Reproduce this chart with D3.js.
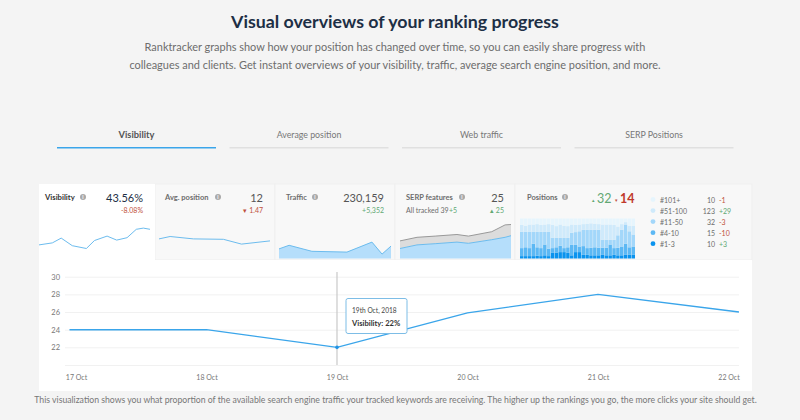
<!DOCTYPE html>
<html>
<head>
<meta charset="utf-8">
<style>
html, body { margin: 0; padding: 0; background: #f4f4f4; }
svg { display: block; font-family: Lato, "Open Sans", sans-serif; }
</style>
<script src="https://cdn.jsdelivr.net/npm/d3@7"></script>
</head>
<body>
<svg id="chart" width="800" height="420"></svg>
<script>
const tabLabels = ['Visibility', 'Average position', 'Web traffic', 'SERP Positions'];

// main chart
const lineDays = [16.95, 18, 19, 20, 21, 22.08];
const lineValues = [24, 24, 22, 25.9, 28, 26];
const dayTicks = [17, 18, 19, 20, 21, 22];
const valueTicks = [20, 22, 24, 26, 28, 30];

// sparklines, x in 0-30, y in 0-100
const visX = [0, 3.6, 6, 9, 12.8, 15, 18.4, 21, 23.8, 26.3, 28.2, 30];
const visY = [34, 39, 51, 32, 25, 45, 56, 46, 52, 73, 76, 73];
const avgX = [0, 3, 9.3, 17.4, 22.3, 30];
const avgY = [49, 55, 49, 48, 36, 44];
const trafficX = [0, 2.7, 8.8, 18.2, 24.9, 27.6, 30];
const trafficY = [24, 33, 18, 16, 41, 11, 31];
const serpX = [0, 4.6, 9.5, 15.4, 18.5, 24.8, 28.4, 30];
const serpTop = [44, 53, 56, 60, 56, 67, 84, 85];
const serpBottom = [25, 34, 37, 41, 38, 47, 53, 57];

// positions stack, share of each bucket per bar
const pos1to3 = [6, 6, 6, 6, 7, 6, 8, 6, 14, 15, 16, 16, 15, 8, 16, 16, 9, 9, 8, 8, 8, 9, 8, 8, 9, 8, 8, 9, 10, 9];
const pos4to10 = [20, 22, 20, 31, 21, 20, 27, 18, 12, 13, 16, 10, 13, 26, 18, 14, 22, 17, 19, 20, 19, 18, 19, 27, 17, 19, 22, 28, 18, 21];
const pos11to50 = [41, 39, 41, 30, 39, 41, 32, 43, 26, 24, 20, 26, 24, 30, 32, 38, 41, 46, 45, 44, 45, 20, 20, 12, 21, 31, 42, 48, 40, 30];
const pos51to100 = [17, 15, 18, 18, 19, 17, 18, 19, 32, 29, 33, 30, 29, 21, 18, 17, 14, 15, 16, 15, 14, 38, 38, 38, 37, 22, 14, 6, 14, 22];
const pos101 = [16, 18, 15, 15, 14, 16, 15, 14, 16, 19, 15, 18, 19, 15, 16, 15, 14, 13, 12, 13, 14, 15, 15, 15, 16, 20, 14, 9, 18, 18];

const legendLabels = ['#101+', '#51-100', '#11-50', '#4-10', '#1-3'];
const legendCounts = ['10', '123', '32', '15', '10'];
const legendDeltas = ['-1', '+29', '-3', '-10', '+3'];
const legendColors = ['#e6f5fd', '#cfeafb', '#a3d7fa', '#5cb8f4', '#0a93ee'];

const svg = d3.select('#chart');
const ink = '#1d2f45';
const grey = '#6d6d6d';
const green = '#62a874';
const red = '#c0503c';
const blue = '#3aa5ea';

function label(x, y, text, size, color, anchor, weight) {
  return svg.append('text')
    .attr('x', x).attr('y', y)
    .attr('font-size', size)
    .attr('fill', color)
    .attr('text-anchor', anchor || 'start')
    .attr('font-weight', weight || 400)
    .text(text);
}

function infoIcon(x, y) {
  svg.append('circle').attr('cx', x).attr('cy', y).attr('r', 3).attr('fill', '#a9a9a9');
  label(x, y + 2, 'i', 5, '#fff', 'middle', 700);
}

// header
label(395, 28, 'Visual overviews of your ranking progress', 17.8, ink, 'middle', 700);
label(395, 51, 'Ranktracker graphs show how your position has changed over time, so you can easily share progress with', 10.95, grey, 'middle');
label(395, 69, 'colleagues and clients. Get instant overviews of your visibility, traffic, average search engine position, and more.', 10.95, grey, 'middle');

// tabs
const tabX = d3.scalePoint().domain(tabLabels).range([136.5, 654]);
tabLabels.forEach((t, i) => {
  const cx = tabX(t);
  label(cx, 137.5, t, i === 0 ? 9.3 : 8.8, i === 0 ? '#555' : '#777', 'middle', i === 0 ? 700 : 400);
  svg.append('rect')
    .attr('x', cx - 79.5).attr('y', 147).attr('width', 159).attr('height', 1.5)
    .attr('fill', i === 0 ? blue : '#e0e0e0');
});

// cards
[[155, 275], [275, 395], [395, 515], [515, 752]].forEach(c => {
  svg.append('rect')
    .attr('x', c[0]).attr('y', 184).attr('width', c[1] - c[0]).attr('height', 76)
    .attr('fill', '#f8f8f8').attr('stroke', '#efefef');
});
svg.append('rect').attr('x', 39).attr('y', 184).attr('width', 116).attr('height', 82).attr('fill', '#fff');
svg.append('rect').attr('x', 39).attr('y', 260).attr('width', 713).attr('height', 131).attr('fill', '#fff');

const sparkY = d3.scaleLinear().domain([0, 100]).range([258.5, 218.5]);

function spark(xs, ys, x0, x1, filled) {
  const sx = d3.scaleLinear().domain([0, 30]).range([x0, x1]);
  const pts = xs.map((d, i) => [d, ys[i]]);
  if (filled) {
    svg.append('path').datum(pts)
      .attr('fill', '#b5defb')
      .attr('d', d3.area().x(d => sx(d[0])).y0(sparkY(0)).y1(d => sparkY(d[1])));
  }
  svg.append('path').datum(pts)
    .attr('fill', 'none').attr('stroke', '#6cbcee').attr('stroke-width', 1)
    .attr('d', d3.line().x(d => sx(d[0])).y(d => sparkY(d[1])));
}

// visibility card
label(45, 200, 'Visibility', 7.7, '#333', 'start', 700);
infoIcon(83, 197);
label(143, 202, '43.56%', 11, ink, 'end');
label(143, 213, '-8.08%', 7, red, 'end');
spark(visX, visY, 39, 150);

// avg position card
label(165, 200, 'Avg. position', 7.5, grey, 'start', 700);
infoIcon(218, 197);
label(263, 202, '12', 11, '#555', 'end');
label(263, 213, '▾ 1.47', 7, red, 'end');
spark(avgX, avgY, 159, 270);

// traffic card
label(286, 200, 'Traffic', 7.5, grey, 'start', 700);
infoIcon(315, 197);
label(384, 202, '230,159', 11, '#555', 'end');
label(384, 213, '+5,352', 7, green, 'end');
spark(trafficX, trafficY, 279, 391, true);

// serp card
const serpScale = d3.scaleLinear().domain([0, 30]).range([400, 511]);
label(406, 200, 'SERP features', 7.5, grey, 'start', 700);
infoIcon(462, 197);
label(504, 202, '25', 11, '#555', 'end');
label(406, 213, 'All tracked 39', 7, grey);
label(449, 213, '+5', 7, green);
label(504, 213, '▴ 25', 7, green, 'end');
svg.append('path').datum(serpX.map((d, i) => [d, serpTop[i], serpBottom[i]]))
  .attr('fill', '#dcdcdc')
  .attr('d', d3.area().x(d => serpScale(d[0])).y0(d => sparkY(d[2])).y1(d => sparkY(d[1])));
svg.append('path').datum(serpX.map((d, i) => [d, serpTop[i]]))
  .attr('fill', 'none').attr('stroke', '#999').attr('stroke-width', 1)
  .attr('d', d3.line().x(d => serpScale(d[0])).y(d => sparkY(d[1])));
spark(serpX, serpBottom, 400, 511, true);

// positions card
label(527, 200, 'Positions', 7.5, grey, 'start', 700);
infoIcon(565, 197);
label(595, 202, '▴', 5, green, 'end');
label(597, 203, '32', 12.5, green);
label(618, 202, '▾', 5, red, 'end');
label(620, 203, '14', 12.5, '#c0392b', 'start', 700);

const stackKeys = legendLabels.slice().reverse();
const stackArrays = [pos1to3, pos4to10, pos11to50, pos51to100, pos101];
const stackRows = pos1to3.map((_, i) => {
  const row = { i: i };
  stackKeys.forEach((k, j) => { row[k] = stackArrays[j][i]; });
  return row;
});
const barX = d3.scaleBand().domain(d3.range(pos1to3.length)).range([520, 635]).paddingInner(0.1);
const barY = d3.scaleLinear().domain([0, 100]).range([258.5, 218.5]);
const barColor = d3.scaleOrdinal().domain(legendLabels).range(legendColors);
svg.append('g').selectAll('g')
  .data(d3.stack().keys(stackKeys)(stackRows))
  .join('g')
  .attr('fill', d => barColor(d.key))
  .selectAll('rect')
  .data(d => d)
  .join('rect')
  .attr('x', d => barX(d.data.i))
  .attr('width', barX.bandwidth())
  .attr('y', d => barY(d[1]))
  .attr('height', d => barY(d[0]) - barY(d[1]));

// positions legend
const legendY = d3.scalePoint().domain(legendLabels).range([199.5, 243.7]);
legendLabels.forEach((t, i) => {
  const y = legendY(t);
  svg.append('circle').attr('cx', 653).attr('cy', y).attr('r', 2.4).attr('fill', legendColors[i]);
  label(660, y + 3, t, 7, grey);
  label(715, y + 3, legendCounts[i], 7, grey, 'end');
  label(719, y + 3, legendDeltas[i], 7, legendDeltas[i][0] === '+' ? green : red);
});

// main line chart
const x = d3.scaleLinear().domain([17, 22]).range([76, 728.5]);
const y = d3.scaleLinear().domain([20, 30]).range([365, 276.7]);

const yAxis = svg.append('g')
  .attr('transform', 'translate(65,0)')
  .call(d3.axisLeft(y).tickValues(valueTicks).tickSize(-674).tickPadding(5)
    .tickFormat(d => d === 20 ? '' : d));
yAxis.select('.domain').remove();
yAxis.selectAll('line').attr('stroke', '#f1f1f1');
yAxis.selectAll('text').attr('font-size', 7.5).attr('fill', '#777').attr('font-family', 'Lato');

const xAxis = svg.append('g')
  .attr('transform', 'translate(0,365)')
  .call(d3.axisBottom(x).tickValues(dayTicks).tickSize(0).tickPadding(10)
    .tickFormat(d => d + ' Oct'));
xAxis.select('.domain').remove();
xAxis.selectAll('text').attr('font-size', 7).attr('fill', '#777').attr('font-family', 'Lato');

svg.append('line')
  .attr('x1', x(19)).attr('x2', x(19))
  .attr('y1', 272).attr('y2', 365)
  .attr('stroke', '#c9c9c9').attr('stroke-width', 1.2);

svg.append('path').datum(lineDays.map((d, i) => [d, lineValues[i]]))
  .attr('fill', 'none').attr('stroke', blue).attr('stroke-width', 1.4)
  .attr('d', d3.line().x(d => x(d[0])).y(d => y(d[1])));

svg.append('circle').attr('cx', x(19)).attr('cy', y(22)).attr('r', 1.8).attr('fill', '#1f93e6');

// tooltip
svg.append('rect')
  .attr('x', x(19) + 9).attr('y', 298.5).attr('width', 61).attr('height', 35).attr('rx', 2)
  .attr('fill', '#fff').attr('stroke', '#7dbde6').attr('stroke-width', 1);
label(x(19) + 15, 313, '19th Oct, 2018', 6.6, '#444');
label(x(19) + 15, 326, 'Visibility: 22%', 7.6, '#333', 'start', 700);

// caption
label(395.5, 403, 'This visualization shows you what proportion of the available search engine traffic your tracked keywords are receiving. The higher up the rankings you go, the more clicks your site should get.', 8.7, '#777', 'middle');
</script>
</body>
</html>
